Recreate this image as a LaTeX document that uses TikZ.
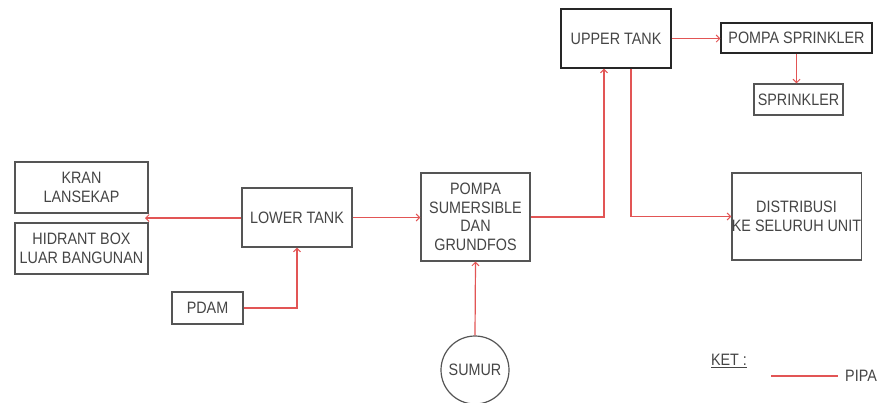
\documentclass[tikz,border=0pt]{standalone}
\usepackage{fontspec}
\setmainfont{Liberation Sans}[FakeStretch=0.87]
\usetikzlibrary{arrows.meta}
\definecolor{boxc}{HTML}{555555}
\definecolor{txtc}{HTML}{454545}
\definecolor{pipec}{HTML}{E25555}
\begin{document}
\begin{tikzpicture}[x=1pt,y=-1pt,
  box/.style={draw=boxc, line width=1.2pt, text=txtc, inner sep=0pt, align=center,
    font=\fontsize{16.5}{18.5}\selectfont},
  dbox/.style={box, draw=black!85},
  pipe/.style={draw=pipec, line width=1.2pt},
  pipeto/.style={pipe, -{Straight Barb[length=3.5pt,width=7pt,line width=1pt]}}]
\useasboundingbox[fill=white] (0,0) rectangle (877,402);
\node[box, minimum width=133pt, minimum height=51pt] (kran) at (81.5,187.5) {KRAN\\LANSEKAP};
\node[box, minimum width=133pt, minimum height=51pt] (hidrant) at (81.5,248.5) {HIDRANT BOX\\LUAR BANGUNAN};
\node[box, minimum width=110pt, minimum height=59pt] (lower) at (297,217.5) {LOWER TANK};
\node[box, minimum width=71pt, minimum height=32pt] (pdam) at (207.5,308) {PDAM};
\node[box, minimum width=109pt, minimum height=88pt] (pompa) at (475.5,217) {POMPA\\SUMERSIBLE\\DAN\\GRUNDFOS};
\node[dbox, minimum width=110pt, minimum height=59pt] (upper) at (616,38.5) {UPPER TANK};
\node[dbox, minimum width=151pt, minimum height=30pt] (psprink) at (796.5,38) {POMPA SPRINKLER};
\node[box, minimum width=89pt, minimum height=31pt] (sprink) at (798.5,99.5) {SPRINKLER};
\node[box, minimum width=129pt, minimum height=87pt] (distr) at (796.5,216.5) {DISTRIBUSI\\KE SELURUH UNIT};
\node[box, circle, minimum size=68pt, inner sep=0pt] (sumur) at (475,370) {SUMUR};
\coordinate (kranpt) at (145,218);
\draw[pipeto] (lower.west |- kranpt) -- (kranpt);
\draw[pipeto] (lower.east) -- (pompa.west |- lower.east);
\draw[pipeto] (pdam.east) -| (lower.south);
\draw[pipeto] (sumur.north) -- (pompa.south);
\draw[pipeto] (pompa.east) -| ([xshift=-12pt]upper.south);
\draw[pipeto] ([xshift=15pt]upper.south) |- (distr.west);
\draw[pipeto] (upper.east) -- (upper.east -| psprink.west);
\draw[pipeto] (psprink.south) -- (psprink.south |- sprink.north);
\node[text=txtc, font=\fontsize{16.5}{18.5}\selectfont, inner sep=0pt] (ket) at (729,361) {\underline{KET :}};
\coordinate (l1) at (771,376);
\coordinate (l2) at (838,376);
\draw[pipe] (l1) -- (l2);
\node[text=txtc, font=\fontsize{16.5}{18.5}\selectfont, anchor=west, inner sep=0pt] (pipa) at (845,376) {PIPA};
\end{tikzpicture}
\end{document}
